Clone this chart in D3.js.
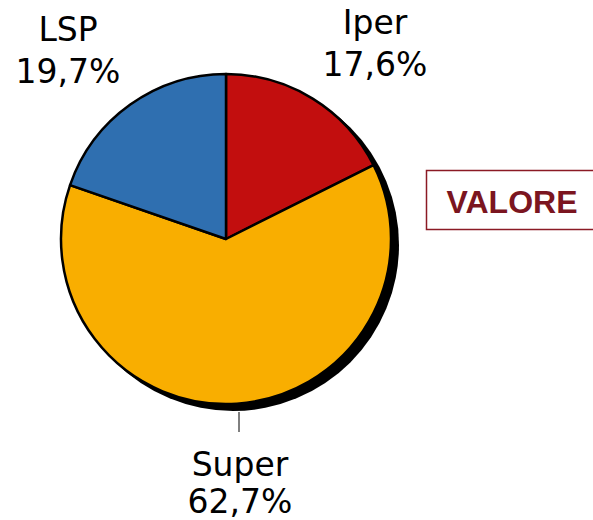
<!DOCTYPE html>
<html><head><meta charset="utf-8">
<script src="https://cdn.jsdelivr.net/npm/d3@7"></script>
<style>html,body{margin:0;padding:0;background:#fff;}svg{display:block;}</style>
</head><body>
<svg id="c" width="593" height="520"></svg>
<script>
const categories = ["Iper", "Super", "LSP"];
const values = [17.6, 62.7, 19.7];
const labels = ["17,6%", "62,7%", "19,7%"];
const colors = ["#C20E0E", "#F9AE00", "#2F6FB0"];

const svg = d3.select("#c");
const cx = 226, cy = 239, r = 165;
const g = svg.append("g").attr("transform", `translate(${cx},${cy})`);

// shadow
g.append("circle").attr("cx", 7).attr("cy", 6).attr("r", r + 1).attr("fill", "#000");

const pie = d3.pie().sort(null).value(d => d)(values);
const arc = d3.arc().innerRadius(0).outerRadius(r);
g.selectAll("path.s").data(pie).join("path")
  .attr("class", "s")
  .attr("d", arc)
  .attr("fill", (d, i) => colors[i])
  .attr("stroke", "#000").attr("stroke-width", 2.5).attr("stroke-linejoin", "round");

// leader line for Super
g.append("line").attr("x1", 13).attr("y1", 173).attr("x2", 13).attr("y2", 193)
  .attr("stroke", "#000").attr("stroke-width", 1);

const labelPos = [[375, 34, 76], [240, 476, 513], [68, 41, 83]];
const font = "DejaVu Sans, Verdana, sans-serif";
categories.forEach((c, i) => {
  const [x, y1, y2] = labelPos[i];
  svg.append("text").attr("x", x).attr("y", y1).attr("text-anchor", "middle")
    .attr("font-family", font).attr("font-size", 33).attr("fill", "#000").text(c);
  svg.append("text").attr("x", x).attr("y", y2).attr("text-anchor", "middle")
    .attr("font-family", font).attr("font-size", 33).attr("fill", "#000").text(labels[i]);
});

// VALORE box
svg.append("rect").attr("x", 426.5).attr("y", 170.5).attr("width", 170).attr("height", 59)
  .attr("fill", "#fff").attr("stroke", "#8B1A24").attr("stroke-width", 1.5);
svg.append("text").attr("x", 512).attr("y", 213).attr("text-anchor", "middle")
  .attr("font-family", "Liberation Sans, Arial, sans-serif").attr("font-weight", "bold")
  .attr("font-size", 32).attr("fill", "#7B1520").text("VALORE");
</script>
</body></html>
